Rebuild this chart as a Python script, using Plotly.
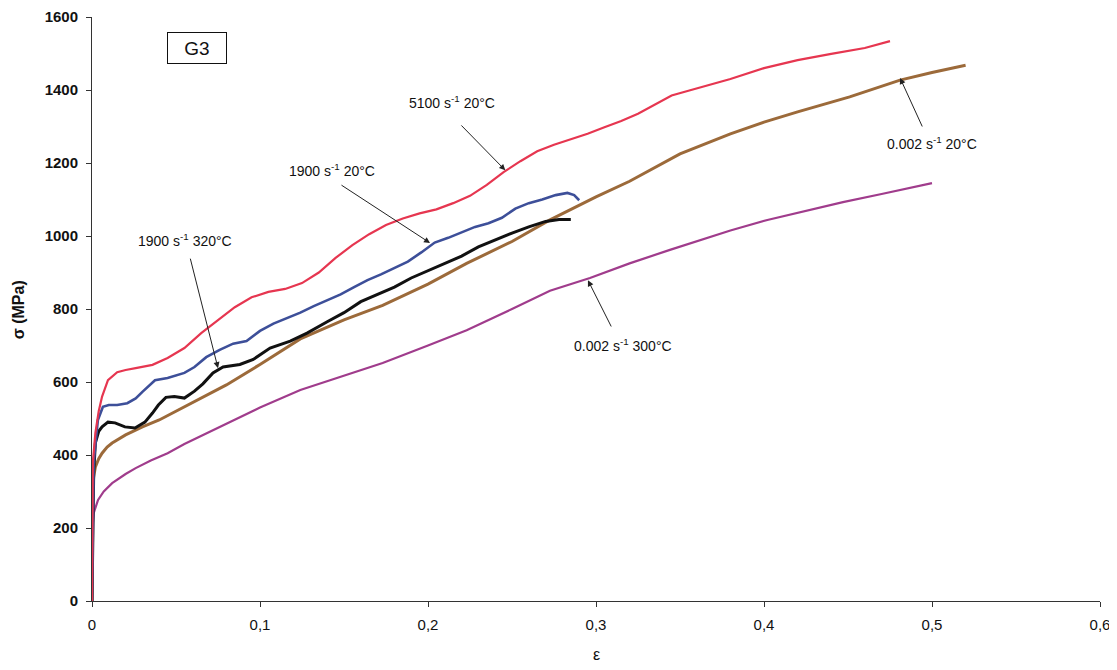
import plotly.graph_objects as go

# ---------------- data ----------------
red_eps = [0, 0.0005, 0.002, 0.004, 0.006, 0.0095, 0.015, 0.02, 0.026, 0.036, 0.045, 0.055, 0.065, 0.075,
           0.085, 0.095, 0.105, 0.115, 0.125, 0.135, 0.145, 0.155, 0.165, 0.175, 0.185, 0.195, 0.205, 0.215,
           0.225, 0.235, 0.245, 0.255, 0.265, 0.275, 0.285, 0.295, 0.305, 0.315, 0.325, 0.335, 0.345, 0.355,
           0.365, 0.38, 0.40, 0.42, 0.44, 0.46, 0.475]
red_sig = [0, 380, 460, 520, 560, 605, 627, 633, 638, 647, 666, 693, 734, 770,
           805, 832, 847, 855, 871, 900, 940, 975, 1005, 1030, 1048, 1062, 1073, 1090,
           1110, 1140, 1175, 1205, 1232, 1250, 1265, 1280, 1298, 1315, 1335, 1360, 1385, 1398,
           1410, 1430, 1460, 1482, 1499, 1515, 1534]

blue_eps = [0, 0.001, 0.0035, 0.0065, 0.01, 0.015, 0.021, 0.026, 0.03, 0.0375, 0.045, 0.055, 0.061, 0.068,
            0.076, 0.084, 0.092, 0.1, 0.108, 0.116, 0.124, 0.132, 0.14, 0.148, 0.156, 0.164, 0.172, 0.18,
            0.188, 0.196, 0.204, 0.212, 0.22, 0.228, 0.236, 0.244, 0.252, 0.26, 0.268, 0.276, 0.283, 0.287, 0.29]
blue_sig = [0, 380, 496, 532, 537, 537, 542, 555, 573, 605, 611, 625, 641, 668,
            688, 705, 712, 740, 760, 775, 790, 808, 825, 840, 860, 879, 895, 913,
            930, 955, 982, 995, 1010, 1025, 1035, 1050, 1075, 1090, 1100, 1112, 1118, 1112, 1098]

black_eps = [0, 0.001, 0.002, 0.004, 0.006, 0.0095, 0.0137, 0.0196, 0.0256, 0.0315, 0.036, 0.0395, 0.044,
             0.049, 0.055, 0.061, 0.066, 0.072, 0.078, 0.088, 0.096, 0.106, 0.118, 0.128, 0.14, 0.15, 0.16,
             0.17, 0.18, 0.19, 0.2, 0.21, 0.22, 0.23, 0.24, 0.25, 0.26, 0.27, 0.278, 0.285]
black_sig = [0, 350, 433, 465, 477, 490, 488, 477, 474, 490, 515, 537, 558,
             560, 556, 575, 595, 625, 641, 648, 662, 693, 712, 734, 765, 790, 820,
             840, 860, 885, 905, 925, 945, 970, 990, 1008, 1025, 1040, 1045, 1045]

brown_eps = [0, 0.0003, 0.001, 0.002, 0.004, 0.006, 0.009, 0.012, 0.02, 0.03, 0.04, 0.05, 0.061, 0.07, 0.08,
             0.1, 0.124, 0.15, 0.173, 0.2, 0.223, 0.25, 0.2726, 0.3, 0.32, 0.35, 0.38, 0.4, 0.42, 0.451,
             0.481, 0.5, 0.52]
brown_sig = [0, 300, 340, 367, 390, 405, 422, 433, 455, 477, 496, 520, 545, 568, 592,
             648, 718, 770, 810, 868, 925, 985, 1044, 1107, 1150, 1225, 1280, 1312, 1340, 1381,
             1427, 1448, 1468]

mag_eps = [0, 0.0003, 0.001, 0.0036, 0.007, 0.012, 0.02, 0.026, 0.035, 0.045, 0.055, 0.066, 0.08, 0.1,
           0.124, 0.15, 0.173, 0.2, 0.223, 0.25, 0.2726, 0.2964, 0.32, 0.344, 0.362, 0.38, 0.402, 0.425,
           0.447, 0.47, 0.5]
mag_sig = [0, 200, 241, 277, 300, 323, 348, 364, 385, 405, 430, 455, 485, 530,
           578, 618, 652, 700, 742, 800, 850, 885, 925, 962, 989, 1015, 1044, 1070,
           1093, 1115, 1145]

x_ticks = [0, 0.1, 0.2, 0.3, 0.4, 0.5, 0.6]
x_labels = ["0", "0,1", "0,2", "0,3", "0,4", "0,5", "0,6"]
y_ticks = [0, 200, 400, 600, 800, 1000, 1200, 1400, 1600]
y_labels = ["<b>%d</b>" % v for v in y_ticks]

# label text, arrow head (x, y), arrow tail (x, y), text centre (x, y)
labels = [
    ("5100 s<sup>-1</sup> 20°C", (0.246, 1180), (0.219, 1307), (0.2143, 1367)),
    ("1900 s<sup>-1</sup> 20°C", (0.2012, 981), (0.1476, 1142), (0.1429, 1181)),
    ("1900 s<sup>-1</sup> 320°C", (0.075, 638), (0.0583, 942), (0.0554, 989)),
    ("0.002 s<sup>-1</sup> 20°C", (0.481, 1433), (0.4946, 1296), (0.50, 1255)),
    ("0.002 s<sup>-1</sup> 300°C", (0.2952, 879), (0.3095, 748), (0.316, 701)),
]

FONT = "Arial, Liberation Sans, sans-serif"

fig = go.Figure()
fig.add_trace(go.Scatter(x=mag_eps, y=mag_sig, mode="lines", line=dict(color="#a03c8c", width=2.2), name="0.002 300"))
fig.add_trace(go.Scatter(x=brown_eps, y=brown_sig, mode="lines", line=dict(color="#9c6a3a", width=3), name="0.002 20"))
fig.add_trace(go.Scatter(x=black_eps, y=black_sig, mode="lines", line=dict(color="#111111", width=3), name="1900 320"))
fig.add_trace(go.Scatter(x=blue_eps, y=blue_sig, mode="lines", line=dict(color="#3d4f99", width=2.6), name="1900 20"))
fig.add_trace(go.Scatter(x=red_eps, y=red_sig, mode="lines", line=dict(color="#e63650", width=2.2), name="5100 20"))

annotations = []
for text, head, tail, centre in labels:
    annotations.append(dict(x=head[0], y=head[1], ax=tail[0], ay=tail[1], xref="x", yref="y",
                            axref="x", ayref="y", text="", showarrow=True, arrowhead=2,
                            arrowsize=1.2, arrowwidth=1, arrowcolor="#222222"))
    annotations.append(dict(x=centre[0], y=centre[1], xref="x", yref="y", text=text, showarrow=False,
                            font=dict(family=FONT, size=14, color="#111111"),
                            xanchor="center", yanchor="middle"))

annotations.append(dict(x=0.104, y=0.947, xref="paper", yref="paper", text="G3", showarrow=False,
                        font=dict(family=FONT, size=19, color="#111111"), bordercolor="#111111",
                        borderwidth=1, borderpad=1, width=56, height=28, bgcolor="white",
                        xanchor="center", yanchor="middle"))
annotations.append(dict(x=-0.0734, y=0.498, xref="paper", yref="paper", text="<b>σ (MPa)</b>",
                        textangle=-90, showarrow=False, font=dict(family=FONT, size=16, color="#111111"),
                        xanchor="center", yanchor="middle"))
annotations.append(dict(x=0.5, y=-0.092, xref="paper", yref="paper", text="ε", showarrow=False,
                        font=dict(family=FONT, size=16, color="#111111"), xanchor="center", yanchor="middle"))

# page body adds an 8 px offset, so the figure is sized to fit inside the window
fig.update_layout(
    width=1109, height=654,
    margin=dict(l=84, r=17, t=9, b=61, autoexpand=False),
    paper_bgcolor="white", plot_bgcolor="white",
    showlegend=False,
    annotations=annotations,
    font=dict(family=FONT, size=12, color="#111111"),
)
fig.update_xaxes(range=[0, 0.6], tickvals=x_ticks, ticktext=x_labels, showgrid=False, zeroline=False,
                 showline=True, linecolor="#333333", linewidth=1, ticks="outside", ticklen=5,
                 tickcolor="#333333", tickfont=dict(family=FONT, size=15, color="#111111"),
                 ticklabelstandoff=5, ticklabeloverflow="allow", automargin=False)
fig.update_yaxes(range=[0, 1600], tickvals=y_ticks, ticktext=y_labels, showgrid=False, zeroline=False,
                 showline=True, linecolor="#333333", linewidth=1, ticks="outside", ticklen=5,
                 tickcolor="#333333", tickfont=dict(family=FONT, size=15, color="#111111"),
                 ticklabelstandoff=5, ticklabeloverflow="allow", automargin=False)

fig.write_html("out.html")
